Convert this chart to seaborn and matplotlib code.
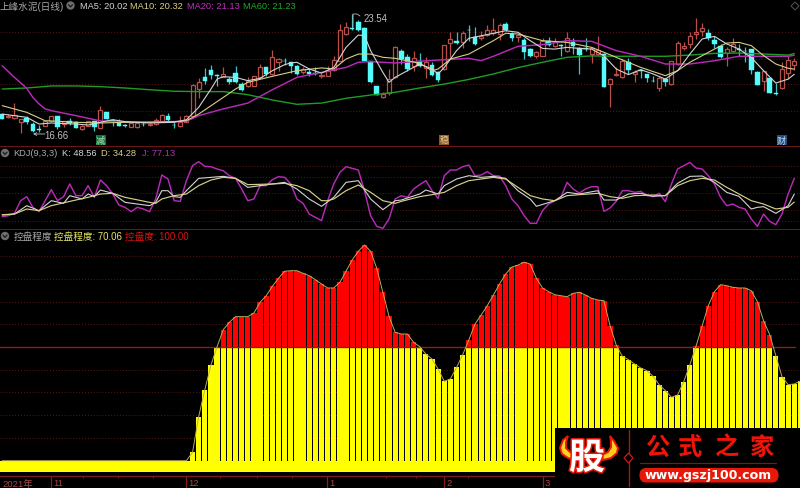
import numpy as np
import matplotlib
matplotlib.use("Agg")
import matplotlib.pyplot as plt
import matplotlib.patheffects as pe
from matplotlib.patches import Rectangle, Polygon, Circle, FancyBboxPatch
import seaborn as sns

stock_name = "上峰水泥(日线)"
ma_labels = ["MA5: 20.02", "MA10: 20.32", "MA20: 21.13", "MA60: 21.23"]

opens = [17.70,17.55,17.45,17.26,17.47,17.12,16.81,17.02,17.31,17.57,17.12,17.31,17.26,16.83,17.02,17.28,16.89,17.80,17.35,17.22,
 17.06,16.96,16.96,17.14,17.06,17.12,17.31,17.61,17.08,16.98,17.26,17.61,19.16,19.88,20.27,19.96,19.88,19.74,20.09,19.45,
 19.36,19.36,19.84,20.42,20.04,20.72,20.81,20.72,20.48,20.13,20.13,20.09,19.90,19.94,20.29,20.81,22.37,22.70,23.05,22.70,
 20.77,19.32,18.71,18.91,19.84,21.36,21.01,20.52,20.81,20.37,20.56,20.13,20.33,21.82,21.98,21.88,22.62,22.21,22.12,22.33,
 22.41,22.37,22.93,22.37,22.21,22.02,21.49,21.11,21.11,21.98,21.69,21.73,21.40,21.88,21.55,21.53,21.20,21.20,21.20,19.45,
 19.98,19.86,20.72,20.04,20.25,20.04,19.65,19.22,19.74,19.43,20.60,21.53,21.79,22.39,22.56,22.41,22.04,21.65,21.24,21.40,
 21.49,21.40,21.49,20.13,19.65,19.80,18.91,19.22,20.09,20.58]
closes = [17.41,17.59,17.64,17.41,17.22,16.70,16.77,17.31,17.61,16.93,17.31,17.18,16.89,17.02,17.31,16.96,17.96,17.41,17.30,17.02,
 17.02,17.16,17.18,17.10,17.14,17.37,17.66,17.35,17.04,17.26,17.61,19.41,19.55,19.61,19.98,19.92,20.04,19.55,19.59,19.12,
 19.65,19.90,20.42,20.04,21.01,20.91,20.77,20.52,20.04,20.33,20.02,20.06,19.98,20.23,20.85,22.62,22.76,22.66,22.62,20.81,
 19.55,18.81,18.89,19.74,21.63,20.91,20.33,20.95,20.48,20.72,20.00,19.71,21.73,22.08,21.84,22.43,22.58,21.79,22.27,22.62,
 22.62,22.89,22.62,22.12,22.31,21.30,21.11,21.30,21.98,21.73,21.88,21.69,22.12,21.65,21.14,21.49,21.53,21.46,19.26,19.74,
 20.06,20.77,20.29,20.13,20.21,19.80,19.61,19.78,19.55,20.79,21.82,21.69,22.27,22.47,22.70,22.12,21.79,21.01,21.49,21.79,
 21.46,21.36,20.29,19.41,20.23,18.95,18.87,20.33,20.85,20.77]
highs = [17.70,17.70,18.33,17.41,17.61,17.22,17.06,17.31,17.61,17.61,17.31,17.45,17.31,17.06,17.31,17.31,18.15,17.80,17.41,17.41,
 17.12,17.22,17.26,17.22,17.18,17.45,17.70,17.76,17.22,17.57,17.64,19.45,19.80,20.37,20.58,20.04,20.42,19.84,20.52,19.55,
 19.84,19.90,20.62,20.46,21.44,20.97,20.95,20.76,20.56,20.42,20.37,20.42,20.09,20.52,21.11,22.95,23.05,23.54,23.20,22.76,
 20.77,19.32,18.97,20.33,21.69,21.49,21.20,21.36,21.24,21.01,20.72,20.23,21.73,22.47,22.50,22.56,22.89,22.76,22.56,22.89,
 23.28,23.01,23.05,22.47,22.31,22.12,21.53,21.40,22.12,22.17,22.12,21.79,22.47,22.12,21.59,22.12,21.59,22.23,21.24,19.82,
 20.42,20.91,20.95,20.29,20.33,20.04,19.94,19.94,19.78,20.79,21.98,21.88,22.47,23.28,23.01,22.66,22.27,21.79,21.63,22.12,
 21.79,21.59,21.49,20.23,20.23,19.80,19.51,20.72,21.11,20.95]
lows = [17.41,17.45,17.41,16.60,17.12,16.66,16.67,16.98,17.31,16.83,16.93,17.06,16.87,16.77,16.98,16.73,16.89,17.41,16.98,16.98,
 16.93,16.93,16.89,17.02,17.02,17.06,17.28,17.31,16.89,16.96,17.22,17.57,18.64,19.45,19.74,19.36,19.84,19.45,19.51,19.03,
 19.26,19.32,19.80,19.94,20.00,20.23,20.58,20.09,19.98,20.04,19.90,19.98,19.78,19.90,20.23,20.77,22.33,22.62,22.56,20.77,
 19.51,18.81,18.65,18.81,19.80,20.62,20.23,20.23,20.42,19.80,19.94,19.55,20.29,21.01,21.79,21.53,21.98,21.73,22.04,22.27,
 22.33,22.04,22.56,21.98,21.88,20.91,21.01,20.95,21.11,21.65,21.59,21.11,21.30,21.20,20.04,21.40,20.68,21.14,19.26,18.09,
 19.94,19.82,20.04,19.55,19.78,19.59,19.55,19.03,19.36,19.39,20.58,21.44,21.53,22.08,22.27,22.04,21.53,20.95,20.52,21.30,
 21.11,20.72,20.04,19.39,19.06,18.93,18.83,19.16,19.74,20.29]

ma5_x = [0,4,6,8,12,14,16,18,20,24,28,30,32,34,35,36,38,40,42,44,46,47,48,50,52,54,56,58,59,60,62,63,64,66,68,70,71,72,74,76,80,82,84,86,88,90,92,94,96,98,100,102,104,106,108,110,112,114,116,118,120,122,124,126,128,129]
ma5_y = [17.70,17.51,17.12,17.18,17.12,17.06,17.22,17.37,17.26,17.18,17.22,17.37,18.09,19.16,19.74,19.88,19.84,19.65,19.78,20.23,20.58,20.68,20.72,20.33,20.09,20.42,21.59,22.31,22.27,21.40,20.13,19.55,19.84,20.23,20.62,20.33,20.04,20.42,21.40,22.12,22.41,22.56,22.47,21.98,21.53,21.49,21.59,21.53,21.49,21.10,20.33,20.0,20.29,20.04,19.74,20.23,21.20,22.08,22.23,21.79,21.49,21.0,20.23,19.51,19.74,20.02]
ma10_x = [0,4,7,8,12,16,20,24,28,30,32,36,38,40,44,48,52,54,55,56,58,60,62,64,68,70,71,73,76,80,82,84,88,92,96,100,104,108,110,112,116,118,120,122,124,126,128,129]
ma10_y = [18.19,17.80,17.31,17.30,17.22,17.18,17.22,17.22,17.26,17.31,17.70,18.67,19.16,19.55,19.90,20.23,20.39,20.33,20.62,20.91,21.20,21.20,21.01,20.95,20.66,20.23,20.33,20.91,21.20,21.98,22.41,22.37,21.98,21.88,21.59,21.01,20.42,19.94,20.23,20.72,21.49,21.84,21.88,21.69,21.11,20.62,20.37,20.32]
ma20_x = [0,2,4,5,6,7,8,12,16,20,24,28,30,32,36,40,44,48,52,56,58,60,64,68,72,76,78,80,84,88,92,96,100,104,108,112,116,120,124,128,129]
ma20_y = [20.52,19.84,19.20,18.67,18.29,18.0,17.90,17.61,17.30,17.24,17.24,17.26,17.28,17.61,18.0,18.34,19.12,19.84,20.13,20.42,20.72,20.76,20.68,20.78,20.87,20.95,20.81,21.07,21.65,21.75,21.98,21.94,21.40,21.07,20.62,20.62,20.81,21.07,21.07,21.07,21.13]
ma60_x = [0,4,8,12,16,20,24,28,32,36,40,44,48,52,56,60,64,68,72,76,80,84,88,92,96,100,104,108,112,116,120,124,128,129]
ma60_y = [19.16,19.22,19.34,19.34,19.30,19.22,19.12,19.03,19.01,19.01,18.83,18.52,18.27,18.34,18.62,18.81,18.97,19.22,19.45,19.72,20.04,20.41,20.72,21.01,21.09,21.07,21.07,21.07,21.14,21.24,21.26,21.20,21.14,21.23]
price_grid = [22.47, 20.91, 19.43, 17.86]

kdj_j = [7.8,9.6,13.8,36.7,44,24.7,16.9,36.7,56.6,36.7,44,66.9,45.8,45.8,63.9,42.8,74.1,63.9,48.8,28.9,
 24.7,16.9,24.7,21.7,16.9,39.8,83.2,75.9,36.7,35.5,72.9,100,107.3,98.8,98.2,94,91,81.9,77.1,57.8,
 36.7,39.8,63.9,63.9,74.7,80.1,78.9,66.9,39.8,31.9,12.6,6.6,0.6,36.7,66.9,88,98.2,95.2,92.2,54.8,
 9.6,-9.7,-13.3,3.6,39.8,45.8,42.8,57.8,65.7,72.9,54.8,41,81.9,92.2,92.2,98.2,101.2,81.9,83.2,89.2,
 81.9,81.3,63.9,39.8,27.7,9.6,-4.2,-4.2,18.7,30.7,36.7,42.8,69.9,57.8,50.6,57.8,62,62,17.5,23.5,
 35.5,54.8,54.8,51.8,53.6,45.8,44,50,34.9,66.9,94,100,106,95.8,94,81.9,66.9,42.8,27.7,30.7,
 24.7,21.7,3.6,-9.7,12.6,-0.6,-6.7,12.6,48.8,77.13]
kdj_k_x = [0,2,4,6,8,10,11,13,14,15,16,18,20,24,25,26,27,28,29,30,32,36,38,40,42,44,46,48,50,52,54,56,58,60,62,64,65,68,69,71,72,74,76,78,80,82,84,86,87,90,92,94,97,98,100,102,104,106,108,110,112,114,116,118,120,122,123,124,126,128,129]
kdj_k = [10.8,12.6,27.7,18.7,36.7,31.9,45.8,39.8,48.8,44,56,50,33.7,27.7,33.7,54.8,54.8,44,42.8,54.8,77.1,80.7,77.1,60.8,63.9,66.9,69.9,57.8,39.8,26.5,42.8,69.9,72.9,39.8,20.5,36.7,37.9,48.8,56,48.8,63.9,75.9,81.9,78.9,80.7,77.1,54.8,39.8,26.5,36.7,51.8,48.8,54.8,37.9,37.9,48.8,50,44.6,45.8,68.1,80.7,81.3,69.9,51.8,44.6,21.7,24.7,25.9,13.8,27.7,48.56]
kdj_d_x = [0,2,4,6,8,12,14,16,18,20,24,25,26,28,30,32,34,36,38,40,44,46,48,50,52,53,54,56,58,60,62,64,65,68,70,72,74,76,80,82,84,86,88,90,92,94,97,99,101,103,106,108,110,112,114,116,118,120,122,124,126,128,129]
kdj_d = [11.4,12.6,21.7,18.7,27.7,37.9,42.8,48.8,50,42.8,33.7,31.9,39.8,45.8,48.8,63.9,74.1,78.9,77.1,65.7,66.9,68.1,63.9,54.8,36.7,36.7,39.8,54.8,65.1,51.8,36.7,31.9,35.5,44,47.6,51.8,63.9,72.9,78.9,75.9,60.8,45.8,39.8,36.7,45.8,47.6,50,44,41,45.8,47,45.8,63.9,72.9,77.1,74.1,60.8,48.8,36.7,30.7,21.7,24.7,34.28]
kdj_grid = [100, 80, 50, 20, 0]

control_level = [0]*31 + [7.4,38.7,62.4,84.2,100.3,115.2,121.7,126.7,126.7,126.7,129.9,139.3,145.1,153.4,160.4,166.6,167.1,167.1,
 164.8,162.7,159.2,155.4,151.9,151.9,156.9,166.6,176.5,184.2,189.7,184.2,169.2,148.1,127,112.9,111.4,111.4,104.1,100.3,
 93.8,89.4,80.6,69.8,71.9,82.1,93.2,106.2,120.2,128.1,136.3,145.7,
 155.4,164.2,170.3,172,174.6,172.9,160.4,151.9,148.6,146,145.1,144.2,147.2,148.1,145.7,142.8,141.3,140.7,118.7,101.8,
 91.8,88.8,85,81.5,79.2,74.2,66.8,61.6,55.8,57.8,69.5,84.4,100.6,118.7,136.3,148.6,154.8,153.9,152.5,151.9,151.9,149.5,
 139.8,123.1,110.8,92.3,73.9,66.8,67.5,70.06]
control_grid = [180,160,140,120,80,60,40,20]
control_threshold = 100
band_floor = -10

month_pos = [7.95, 29.9, 52.9, 72, 88]
month_labels = ["11", "12", "1", "2", "3"]
week_pos = [13.2, 18.9, 24.6, 35.5, 41.5, 47.2, 62.5, 67.4, 75.9]

W, H = 800, 489
sns.set_theme(style="dark", rc={"figure.facecolor": "black", "axes.facecolor": "black",
                                "savefig.facecolor": "black"})
plt.rcParams["font.family"] = ["Liberation Sans", "Noto Sans CJK SC", "DejaVu Sans"]
plt.rcParams["axes.unicode_minus"] = False

fig = plt.figure(figsize=(W / 100, H / 100), dpi=100)
XLIM = (-2.2 / 6.14, (W - 2.2) / 6.14)
FRAME = "#8c1c1c"
GRID = "#5e1616"
C_WHITE, C_KHAKI, C_MAG, C_GREEN = "#d4d4d4", "#d6d088", "#b62ab6", "#1f9c25"


def panel(top, bottom, ylim):
    ax = fig.add_axes([0, 1 - bottom / H, 1, (bottom - top) / H])
    ax.set_xlim(*XLIM)
    ax.set_ylim(*ylim)
    ax.set_yticks([])
    ax.set_xticks([])
    ax.grid(False)
    for s in ax.spines.values():
        s.set_visible(False)
    return ax


def line(ax, x, y, color, lw=0.8, z=4):
    sns.lineplot(x=x, y=y, ax=ax, color=color, linewidth=lw, estimator=None,
                 sort=False, legend=False, zorder=z)


# price panel
ax1 = panel(0, 148, (15.78, 24.41))
ax1.spines["bottom"].set_visible(True)
ax1.spines["bottom"].set_color(FRAME)
ax1.spines["bottom"].set_linewidth(1.1)
for g in price_grid:
    ax1.axhline(g, color=GRID, lw=0.7, ls=(0, (1, 2)), zorder=1)
idx = np.arange(len(opens))
o, c, h, l = map(np.array, (opens, closes, highs, lows))
up = c >= o
RED, CYAN = "#b8504a", "#55fbfb"
ax1.vlines(idx[up], l[up], h[up], color=RED, lw=0.9, zorder=2)
ax1.vlines(idx[~up], l[~up], h[~up], color="#3fc4c4", lw=0.9, zorder=2)
ax1.bar(idx[up], (c - o)[up], bottom=o[up], width=0.66, facecolor="black",
        edgecolor=RED, linewidth=0.9, zorder=3)
ax1.bar(idx[~up], (o - c)[~up], bottom=c[~up], width=0.74, facecolor=CYAN,
        edgecolor=CYAN, linewidth=0.3, zorder=3)
line(ax1, ma60_x, ma60_y, C_GREEN, 1.0)
line(ax1, ma20_x, ma20_y, C_MAG, 1.05)
line(ax1, ma10_x, ma10_y, C_KHAKI, 0.8)
line(ax1, ma5_x, ma5_y, C_WHITE, 0.8)
ax1.set_xlabel("")
ax1.set_ylabel("")
ax1.set_xticks([])
ax1.set_yticks([])

# KDJ panel
ax2 = panel(148, 231, (-16.3, 133.8))
ax2.spines["bottom"].set_visible(True)
ax2.spines["bottom"].set_color(FRAME)
ax2.spines["bottom"].set_linewidth(1.1)
for g in kdj_grid:
    ax2.axhline(g, color=GRID, lw=0.7, ls=(0, (1, 2)), zorder=1)
line(ax2, list(range(len(kdj_j))), kdj_j, C_MAG, 1.05)
line(ax2, kdj_k_x, kdj_k, C_WHITE, 0.8)
line(ax2, kdj_d_x, kdj_d, C_KHAKI, 0.85)
ax2.set_xlabel("")
ax2.set_ylabel("")
ax2.set_xticks([])
ax2.set_yticks([])

# control panel
ax3 = panel(231, 477, (-13.46, 202.9))
for g in control_grid:
    ax3.axhline(g, color=GRID, lw=0.7, ls=(0, (1, 2)), zorder=1)
v = np.array(control_level)
xs = np.arange(len(v))
ax3.bar(xs, [band_floor] * len(xs), width=1.0, color="#ffff00", linewidth=0, zorder=2)
ax3.bar(xs, np.minimum(v, control_threshold), width=0.85, color="#ffff00", linewidth=0, zorder=2)
over = v > control_threshold
ax3.bar(xs[over], (v - control_threshold)[over], bottom=control_threshold, width=0.85,
        color="#ff0000", linewidth=0, zorder=2)
ax3.plot([XLIM[0], 129.2], [control_threshold] * 2, color="#8c1c1c", lw=1.0, zorder=3)
line(ax3, xs, v, "#b8ac5c", 0.7, z=3)
ax3.set_xlabel("")
ax3.set_ylabel("")
ax3.spines["bottom"].set_visible(True)
ax3.spines["bottom"].set_color("#7a1c1c")
ax3.spines["bottom"].set_linewidth(1.0)
ax3.set_yticks([])
ax3.set_xticks(month_pos)
ax3.set_xticklabels([""] * len(month_pos))
ax3.set_xticks(week_pos, minor=True)
ax3.tick_params(axis="x", which="major", length=8.6, width=0.9, color="#8c1c1c", bottom=True)
ax3.tick_params(axis="x", which="minor", length=1.6, width=0.8, color="#8c1c1c", bottom=True)

# overlay in pixels for text and the logo
ov = fig.add_axes([0, 0, 1, 1], zorder=10)
ov.set_xlim(0, W)
ov.set_ylim(H, 0)
ov.axis("off")
ov.patch.set_alpha(0)


def T(x, y, s, color, size=6.7, **kw):
    kw.setdefault("ha", "left")
    kw.setdefault("va", "center")
    ov.text(x, y, s, color=color, fontsize=size, **kw)


def icon(x, y):
    ov.add_patch(Circle((x, y), 4.2, facecolor="#6e6e6e", edgecolor="none"))
    ov.plot([x - 2, x, x + 2], [y - 0.8, y + 1.4, y - 0.8], color="#111111", lw=0.8)


T(0, 7, stock_name, "#a8a8a8", 6.9)
icon(70.5, 6.5)
for x0, s, col in zip([80, 130, 187, 243], ma_labels, [C_WHITE, C_KHAKI, "#c030c0", "#20a828"]):
    T(x0, 6.5, s, col)
T(364, 19, "23.54", "#c0c0c0", 6.9)
ov.plot([353, 353, 357, 360], [28, 15, 15, 17], color="#b8b8b8", lw=0.6)
T(44, 136, "16.66", "#c0c0c0", 6.9)
ov.annotate("", xy=(33, 135), xytext=(45, 135),
            arrowprops=dict(arrowstyle="->", color="#c0c0c0", lw=0.6, mutation_scale=5,
                            shrinkA=0, shrinkB=0))

for x0, s, fc, tc in [(100.5, "减", "#176f3a", "#a8e0b8"), (444, "稳", "#8a5a25", "#e8c8a0"),
                      (781.5, "财", "#234f80", "#c0d8f0")]:
    ov.add_patch(Rectangle((x0 - 5, 136), 10, 10, facecolor=fc, edgecolor="none"))
    T(x0, 141, s, tc, 6.6, ha="center")
ov.add_patch(Polygon([(795, 3), (799, 7), (795, 11), (791, 7)], closed=True,
                     facecolor="none", edgecolor="#555555", lw=0.7))

icon(5, 154)
T(13.5, 154, "KDJ(9,3,3)", "#a8a8a8")
T(62, 154, "K: 48.56", C_WHITE)
T(101, 154, "D: 34.28", C_KHAKI)
T(142, 154, "J: 77.13", "#b030b0")

icon(5, 237)
T(13.5, 237, "控盘程度", "#a8a8a8", 6.9)
T(54, 237, "控盘程度: 70.06", "#e8e860", 6.9)
T(125, 237, "控盘度: 100.00", "#e01010", 6.9)

T(2, 484, "2021年", "#a84848", 6.8)
for p, s in zip(month_pos, month_labels):
    T(2.2 + 6.14 * p + 2.5, 484, s, "#a84848", 6.8)

# logo block
ov.add_patch(Rectangle((555, 429), 245, 60, facecolor="black", edgecolor="none", zorder=5))
left_horn = [(568, 437), (563, 441), (560, 449), (562, 455), (568, 459), (575, 461), (576, 456),
             (570, 453), (566, 449), (566, 443)]
right_horn = [(610, 437), (614, 442), (618, 449), (617, 454), (611, 459), (603, 461), (602, 456),
              (608, 453), (611, 448), (611, 442)]
for pts in (left_horn, right_horn):
    ov.add_patch(Polygon(pts, closed=True, facecolor="#ffd020", edgecolor="#e81808", lw=1.4, zorder=6))
ov.text(587, 459.5, "股", color="white", fontsize=26, fontweight="bold", ha="center", va="center",
        family="Noto Sans CJK SC", zorder=7,
        path_effects=[pe.withStroke(linewidth=2.2, foreground="#e81808")])
ov.plot([628.5, 628.5], [431, 487], color="#a81818", lw=1.0, zorder=6)
ov.add_patch(Polygon([(628.5, 454), (633, 459), (628.5, 464), (624, 459)], closed=True,
                     facecolor="black", edgecolor="#d01818", lw=0.9, zorder=7))
for cx, ch in zip([657, 690, 727, 762], "公式之家"):
    ov.text(cx, 448, ch, color="#f01408", fontsize=17.5, fontweight="bold", ha="center", va="center",
            family="Noto Sans CJK SC", zorder=7)
ov.plot([640, 776], [464, 464], color="#7a1810", lw=0.9, zorder=6)
ov.add_patch(FancyBboxPatch((640, 469.5), 138, 13.5, boxstyle="round,pad=0,rounding_size=6.5",
                            facecolor="#e81808", edgecolor="#e81808", lw=0.8, zorder=6,
                            mutation_aspect=1))
ov.text(708.5, 475.5, "www.gszj100.com", color="white", fontsize=9.1, fontweight="bold",
        ha="center", va="center", family="DejaVu Sans", zorder=7)

fig.savefig("out.png", dpi=100)
